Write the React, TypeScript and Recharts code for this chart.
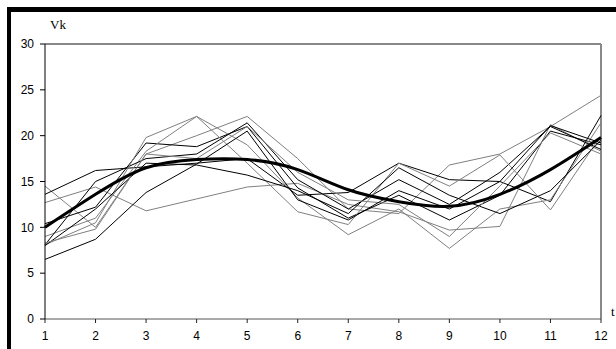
import React from "react";
import { Line, LineChart, ReferenceLine, XAxis, YAxis } from "recharts";

// time steps on the horizontal axis
const steps = [1, 2, 3, 4, 5, 6, 7, 8, 9, 10, 11, 12];
const yTicks = [0, 5, 10, 15, 20, 25, 30];

// individual trajectories (thin lines)
const s1 = [14.5, 10.0, 18.0, 20.0, 22.1, 17.5, 12.0, 11.5, 16.8, 18.0, 21.0, 24.4];
const s2 = [13.6, 16.2, 16.6, 17.0, 17.5, 13.5, 13.8, 17.0, 15.2, 15.0, 12.8, 22.2];
const s3 = [12.7, 14.4, 11.8, 13.1, 14.4, 14.8, 12.5, 11.7, 9.7, 10.1, 21.2, 18.3];
const s4 = [10.4, 12.2, 19.2, 18.8, 21.0, 14.3, 11.0, 13.5, 10.8, 13.5, 20.5, 19.0];
const s5 = [9.0, 11.0, 18.3, 22.1, 19.0, 13.2, 9.2, 12.0, 7.7, 12.0, 13.0, 21.4];
const s6 = [8.1, 15.0, 17.5, 18.0, 21.4, 15.2, 12.0, 15.2, 12.5, 16.0, 21.0, 18.5];
const s7 = [8.1, 10.5, 19.8, 22.1, 17.0, 11.7, 10.3, 17.0, 14.5, 17.9, 11.9, 20.0];
const s8 = [8.0, 12.0, 17.0, 16.8, 15.7, 14.0, 11.5, 16.5, 13.5, 11.5, 14.0, 19.5];
const s9 = [8.3, 9.8, 18.0, 17.5, 21.0, 16.0, 13.0, 12.5, 9.0, 14.5, 20.3, 18.0];
const s10 = [6.5, 8.7, 13.8, 16.9, 20.5, 13.0, 10.8, 14.0, 12.0, 15.0, 21.1, 19.2];

// smoothed mean curve (thick line)
const mean = [10.0, 13.6, 16.5, 17.4, 17.4, 16.3, 14.1, 12.8, 12.3, 13.6, 16.3, 19.8];

const series = [
  { key: "s1", values: s1, color: "#808080" },
  { key: "s2", values: s2, color: "#000000" },
  { key: "s3", values: s3, color: "#808080" },
  { key: "s4", values: s4, color: "#000000" },
  { key: "s5", values: s5, color: "#808080" },
  { key: "s6", values: s6, color: "#000000" },
  { key: "s7", values: s7, color: "#808080" },
  { key: "s8", values: s8, color: "#000000" },
  { key: "s9", values: s9, color: "#808080" },
  { key: "s10", values: s10, color: "#000000" },
];

const data = steps.map((t, i) => {
  const row: Record<string, number> = { t, mean: mean[i] };
  series.forEach((s) => {
    row[s.key] = s.values[i];
  });
  return row;
});

const tickFont = { fontFamily: "Liberation Sans", fontSize: 12, fill: "#000" };

export default function App() {
  return (
    <div
      style={{
        position: "absolute",
        left: 0,
        top: 0,
        width: 616,
        height: 349,
        background: "#fff",
        overflow: "hidden",
      }}
    >
      <div style={{ position: "absolute", left: 7, top: 7, width: 4, height: 342, background: "#000" }} />
      <div style={{ position: "absolute", left: 7, top: 7, width: 609, height: 5, background: "#000" }} />
      <div
        style={{
          position: "absolute",
          left: 50,
          top: 17,
          fontFamily: "Liberation Serif",
          fontSize: 13,
        }}
      >
        Vk
      </div>
      <div
        style={{
          position: "absolute",
          left: 611,
          top: 304,
          fontFamily: "Liberation Serif",
          fontSize: 13,
        }}
      >
        t
      </div>
      <LineChart
        width={616}
        height={349}
        data={data}
        margin={{ top: 44, right: 15, bottom: 0, left: 0 }}
        style={{ position: "absolute", left: 0, top: 0 }}
      >
        <XAxis
          dataKey="t"
          type="number"
          domain={[1, 12]}
          ticks={steps}
          height={30}
          tickSize={4}
          tickMargin={8}
          tick={tickFont}
          stroke="#555"
          tickLine={{ stroke: "#222" }}
          interval={0}
        />
        <YAxis
          domain={[0, 30]}
          ticks={yTicks}
          width={45}
          tickSize={5}
          tickMargin={6}
          tick={tickFont}
          stroke="#000"
          interval={0}
        />
        <ReferenceLine y={30} stroke="#888" strokeWidth={2} />
        <ReferenceLine x={12} stroke="#888" strokeWidth={2} />
        {series.map((s) => (
          <Line
            key={s.key}
            dataKey={s.key}
            stroke={s.color}
            strokeWidth={1}
            dot={false}
            type="linear"
            isAnimationActive={false}
          />
        ))}
        <Line
          dataKey="mean"
          stroke="#000"
          strokeWidth={3}
          dot={false}
          type="natural"
          isAnimationActive={false}
        />
      </LineChart>
    </div>
  );
}
